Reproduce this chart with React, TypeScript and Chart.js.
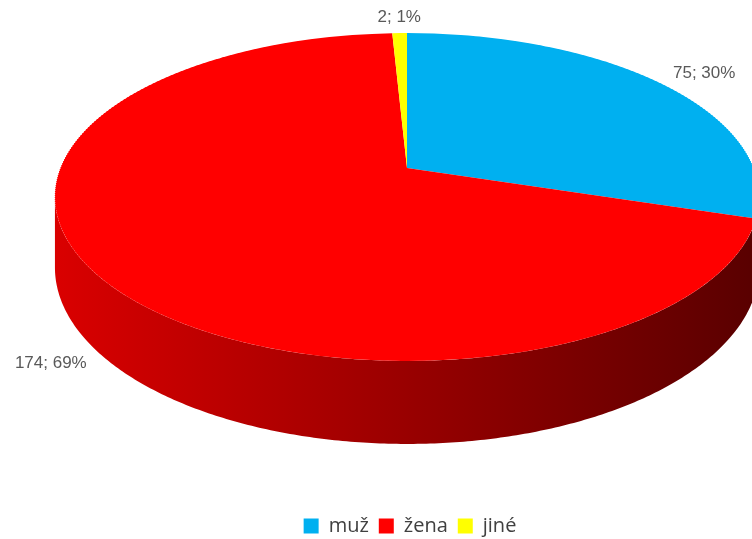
import React, { useEffect, useRef } from 'react';
import { Chart, PieController, ArcElement, Legend } from 'chart.js';

Chart.register(PieController, ArcElement, Legend);

// ---- data ----
const categories = ['muž', 'žena', 'jiné'];
const counts = [75, 174, 2];
const percents = [30, 69, 1];
const topColors = ['#00B0F0', '#FF0000', '#FFFF00'];
const wallLight = ['#10A0DC', '#DA0000', '#DADA00'];
const wallDark = ['#004E6C', '#580000', '#585800'];

// ---- layout (perspective projection of the pie) ----
const W = 752;
const H = 539;
const CANVAS_H = 546;
const AX = 407; // apex x
const AY = 168; // apex y
const P = 0.177; // perspective strength
const RX = 346.5; // horizontal radius (unprojected)
const RY = 158.8; // vertical radius (unprojected)
const D0 = 68.3; // wall thickness (unprojected)
const LABEL_GAP = 16;

function proj(a: number, k = 1) {
  const w = 1 - P * Math.sin(a);
  return {
    x: AX + (RX * k * Math.cos(a)) / w,
    y: AY + (RY * k * Math.sin(a)) / w,
    d: D0 / w,
  };
}

const pie3d = {
  id: 'pie3d',
  beforeDatasetsDraw(chart: any) {
    const meta = chart.getDatasetMeta(0);
    const arcs = meta.data as any[];
    if (!arcs.length) return false;
    const ctx: CanvasRenderingContext2D = chart.ctx;
    const cx = arcs[0].x;
    const cy = arcs[0].y;
    const r = arcs[0].outerRadius;
    if (!r) return false;

    // side walls (visible near part)
    const aMin = Math.asin(P);
    const aMax = Math.PI - aMin;
    arcs.forEach((arc, i) => {
      const s = Math.max(arc.startAngle, aMin);
      const e = Math.min(arc.endAngle, aMax);
      if (s >= e) return;
      const n = Math.max(2, Math.ceil((e - s) / 0.01));
      const g = ctx.createLinearGradient(AX - RX * 1.02, 0, AX + RX * 1.02, 0);
      g.addColorStop(0, wallLight[i]);
      g.addColorStop(1, wallDark[i]);
      ctx.save();
      ctx.beginPath();
      for (let k = 0; k <= n; k++) {
        const pt = proj(s + ((e - s) * k) / n);
        if (k === 0) ctx.moveTo(pt.x, pt.y);
        else ctx.lineTo(pt.x, pt.y);
      }
      for (let k = n; k >= 0; k--) {
        const pt = proj(s + ((e - s) * k) / n);
        ctx.lineTo(pt.x, pt.y + pt.d);
      }
      ctx.closePath();
      ctx.fillStyle = g;
      ctx.fill();
      ctx.restore();
    });

    // top face, drawn in thin horizontal bands with a local affine map
    const yTop = Math.floor(AY - RY / (1 + P)) - 2;
    const yBot = Math.ceil(AY + RY / (1 - P)) + 2;
    const step = 2;
    for (let y = yTop; y < yBot; y += step) {
      const ym = y + step / 2;
      const t = (ym - AY) / RY;
      const v = t / (1 + P * t);
      if (v < -1.02 || v > 1.02) continue;
      const w = 1 - P * v;
      ctx.save();
      ctx.beginPath();
      ctx.rect(0, y, W, step);
      ctx.clip();
      ctx.translate(AX, ym);
      ctx.scale(RX / (w * r), RY / (w * w * r));
      ctx.translate(-cx, -(cy + v * r));
      arcs.forEach((arc) => arc.draw(ctx));
      ctx.restore();
    }
    return false;
  },
  afterDraw(chart: any) {
    const meta = chart.getDatasetMeta(0);
    const arcs = meta.data as any[];
    const ctx: CanvasRenderingContext2D = chart.ctx;
    ctx.save();
    ctx.font = '17px "Liberation Sans", Arial, sans-serif';
    ctx.fillStyle = '#595959';
    ctx.textBaseline = 'middle';
    arcs.forEach((arc, i) => {
      const mid = (arc.startAngle + arc.endAngle) / 2;
      const dx = Math.cos(mid);
      const dy = Math.sin(mid);
      const pt = proj(mid);
      const bx = pt.x + LABEL_GAP * dx;
      const by = pt.y + (dy > 0 ? pt.d : 0) + LABEL_GAP * dy;
      ctx.textAlign = dx > 0.1 ? 'left' : dx < -0.1 ? 'right' : 'center';
      ctx.fillText(`${counts[i]}; ${percents[i]}%`, bx, by);
    });
    ctx.restore();
  },
};

export default function App() {
  const ref = useRef<HTMLCanvasElement | null>(null);
  useEffect(() => {
    if (!ref.current) return;
    const chart = new Chart(ref.current, {
      type: 'pie',
      data: {
        labels: categories,
        datasets: [
          {
            data: counts,
            backgroundColor: topColors,
            borderWidth: 0,
            clip: false as any,
          },
        ],
      },
      options: {
        responsive: false,
        animation: false,
        events: [],
        layout: { padding: { top: 10, bottom: 0, left: 68 } },
        plugins: {
          legend: {
            position: 'bottom',
            labels: {
              boxWidth: 15,
              boxHeight: 15,
              padding: 10,
              color: '#404040',
              font: { family: '"Open Sans", "Noto Sans", sans-serif', size: 20 },
            },
          },
          tooltip: { enabled: false },
        },
      },
      plugins: [pie3d],
    });
    return () => chart.destroy();
  }, []);
  return (
    <div
      style={{
        position: 'fixed',
        left: 0,
        top: 0,
        width: W,
        height: H,
        overflow: 'hidden',
        background: '#fff',
      }}
    >
      <canvas ref={ref} width={W} height={CANVAS_H} style={{ width: W, height: CANVAS_H, display: 'block' }} />
    </div>
  );
}
